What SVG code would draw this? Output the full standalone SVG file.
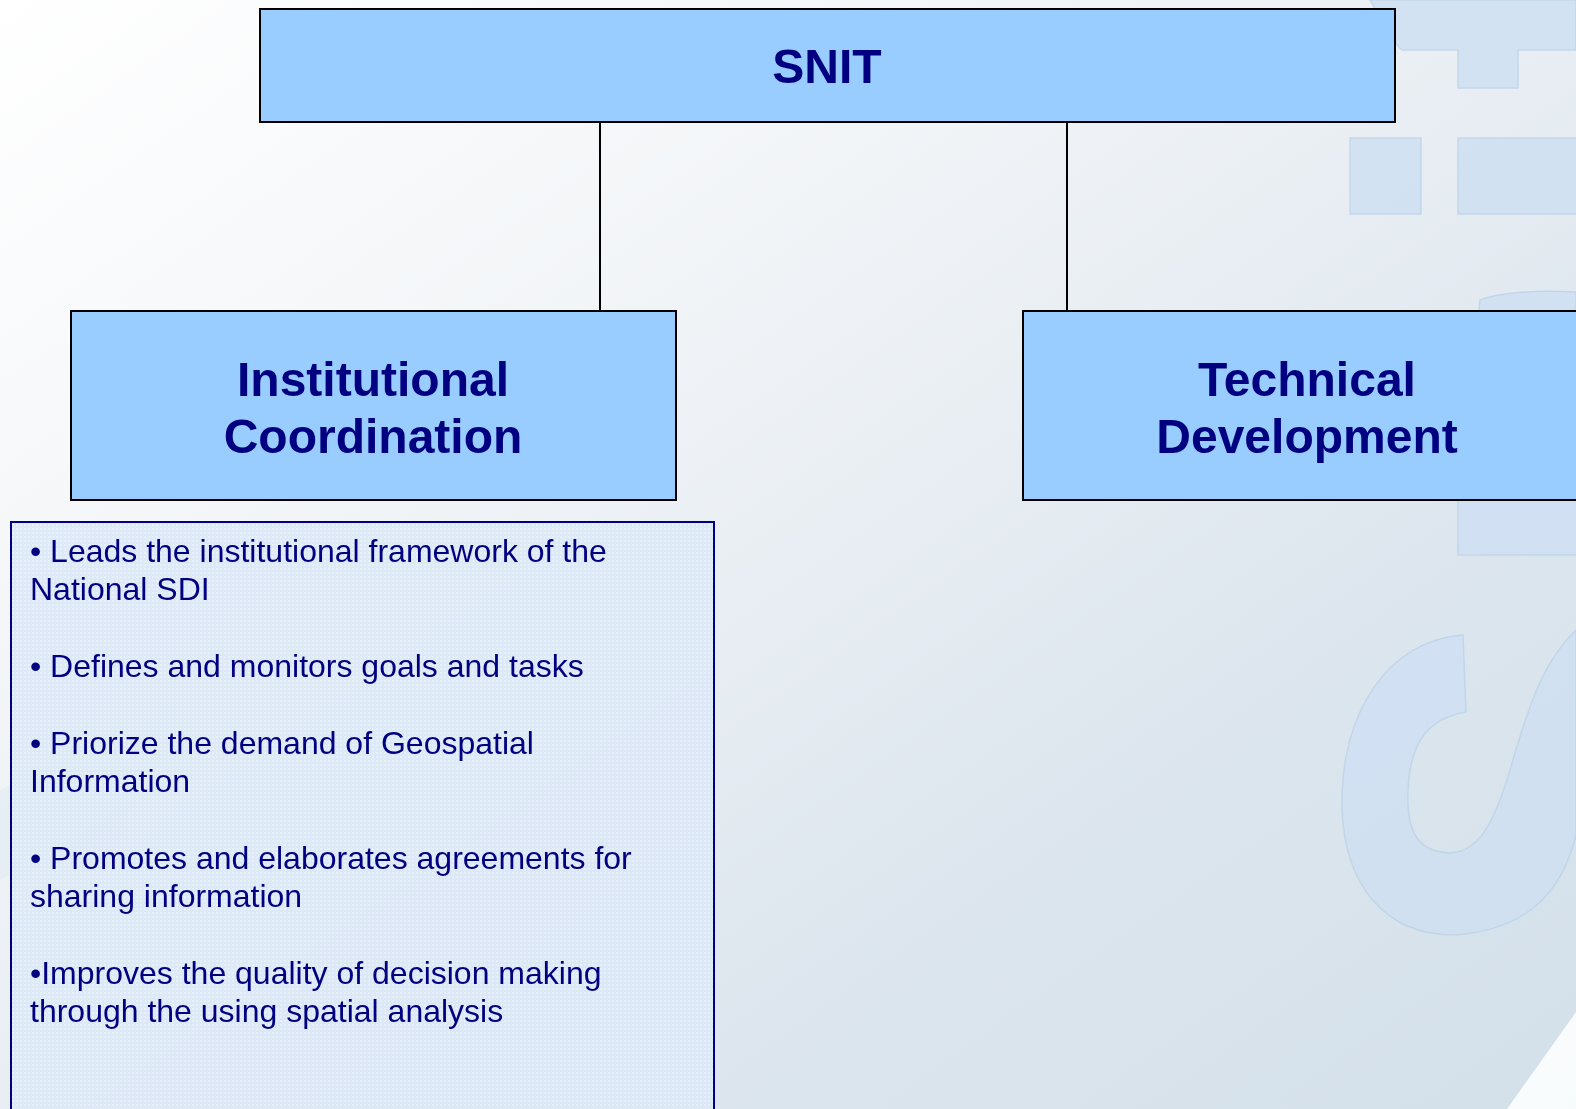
<svg xmlns="http://www.w3.org/2000/svg" width="1576" height="1109" viewBox="0 0 1576 1109">
  <defs>
    <linearGradient id="bg" x1="0" y1="0" x2="1" y2="1" gradientUnits="objectBoundingBox">
      <stop offset="0" stop-color="#ffffff"/>
      <stop offset="0.35" stop-color="#f1f4f7"/>
      <stop offset="0.7" stop-color="#dde6ee"/>
      <stop offset="1" stop-color="#d3e0ea"/>
    </linearGradient>
    <pattern id="dots" width="4" height="4" patternUnits="userSpaceOnUse">
      <rect width="4" height="4" fill="#dbe8f6"/>
      <rect width="2" height="2" fill="#e6eff9"/>
    </pattern>
    <style>
      .node { fill: #99ccff; stroke: #000000; stroke-width: 2; }
      .title { font-family: "Liberation Sans", Arial, sans-serif; font-weight: bold; font-size: 48px; fill: #000080; text-anchor: middle; }
      .bullet { font-family: "Liberation Sans", Arial, sans-serif; font-size: 32px; fill: #000080; }
      .conn { stroke: #000000; stroke-width: 2; fill: none; }
      .deco { fill: #cfe0f2; stroke: #bdd3e8; stroke-width: 1.5; }
    </style>
  </defs>

  <!-- background -->
  <rect x="0" y="0" width="1576" height="1109" fill="url(#bg)"/>
  <g id="decorations" opacity="0.85">
    <path class="deco" d="M1370,0 C1385,25 1395,45 1402,50 L1458,50 L1458,88 L1518,88 L1518,50 L1576,50 L1576,0 Z"/>
    <rect class="deco" x="1350" y="138" width="71" height="76"/>
    <rect class="deco" x="1458" y="138" width="120" height="76"/>
    <path class="deco" d="M1480,300 C1500,292 1540,290 1576,292 L1576,500 L1460,500 Z"/>
    <rect class="deco" x="1458" y="498" width="120" height="57"/>
    <path class="deco" d="M1463,635 L1466,712 C1430,718 1410,740 1408,790 C1406,835 1420,852 1450,853 C1480,852 1495,820 1510,770 C1530,700 1545,660 1576,630 L1576,835 C1560,900 1520,930 1455,935 C1380,935 1345,880 1342,810 C1340,710 1390,640 1463,635 Z"/>
    <path d="M1507,1109 L1576,1012 L1576,1109 Z" fill="#ffffff"/>
    <path d="M0,790 L40,770 L100,790 L150,720 L175,700 L130,810 L110,870 L60,860 L20,870 L0,880 Z" fill="#dde7f0" opacity="0.6"/>
  </g>

  <!-- connectors -->
  <g id="connectors">
    <line class="conn" x1="600" y1="122" x2="600" y2="311"/>
    <line class="conn" x1="1067" y1="122" x2="1067" y2="311"/>
  </g>

  <g id="node-snit">
    <rect class="node" x="260" y="9" width="1135" height="113"/>
    <text class="title" x="827" y="83">SNIT</text>
  </g>

  <g id="node-institutional">
    <rect class="node" x="71" y="311" width="605" height="189"/>
    <text class="title" x="373" y="396">Institutional</text>
    <text class="title" x="373" y="453">Coordination</text>
  </g>

  <g id="node-technical">
    <rect class="node" x="1023" y="311" width="570" height="189"/>
    <text class="title" x="1307" y="396">Technical</text>
    <text class="title" x="1307" y="453">Development</text>
  </g>

  <g id="node-functions">
    <rect x="11" y="522" width="703" height="600" fill="url(#dots)" fill-opacity="0.9" stroke="#000080" stroke-width="2"/>
    <text class="bullet" x="30" y="562">• Leads the institutional framework of the</text>
    <text class="bullet" x="30" y="600">National SDI</text>
    <text class="bullet" x="30" y="677">• Defines and monitors goals and tasks</text>
    <text class="bullet" x="30" y="754">• Priorize the demand of Geospatial</text>
    <text class="bullet" x="30" y="792">Information</text>
    <text class="bullet" x="30" y="869">• Promotes and elaborates agreements for</text>
    <text class="bullet" x="30" y="907">sharing information</text>
    <text class="bullet" x="30" y="984">•Improves the quality of decision making</text>
    <text class="bullet" x="30" y="1022">through the using spatial analysis</text>
  </g>
</svg>
